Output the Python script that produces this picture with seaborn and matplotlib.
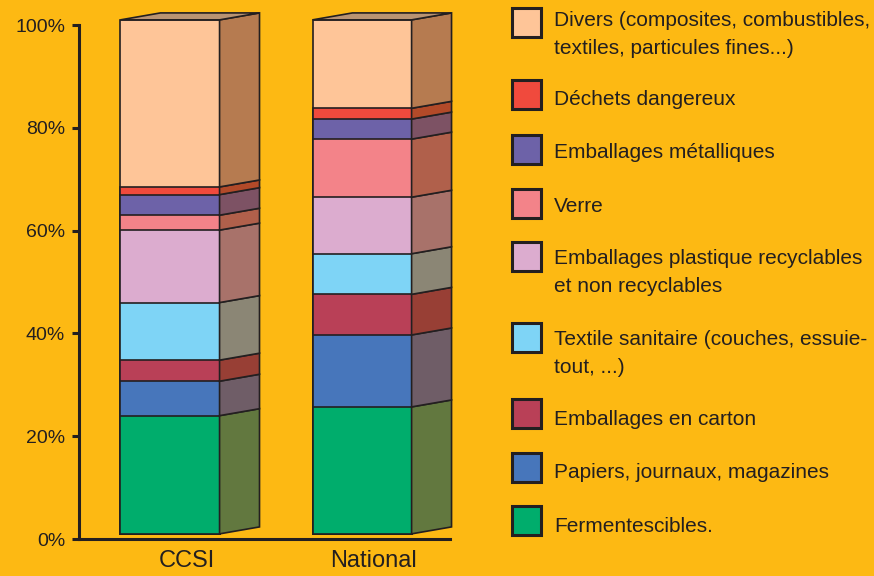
import matplotlib
matplotlib.use("Agg")
import matplotlib.pyplot as plt
from matplotlib.patches import Rectangle, Polygon
import seaborn as sns
import numpy as np

# --- data (bottom -> top of each stack) ---
sites = ["CCSI", "National"]
categories = [
    "Fermentescibles.",
    "Papiers, journaux, magazines",
    "Emballages en carton",
    "Textile sanitaire (couches, essuie-\ntout, ...)",
    "Emballages plastique recyclables\net non recyclables",
    "Verre",
    "Emballages métalliques",
    "Déchets dangereux",
    "Divers (composites, combustibles,\ntextiles, particules fines...)",
]
ccsi = [23.0, 6.7, 4.1, 11.2, 14.1, 2.9, 4.0, 1.5, 32.5]
national = [24.7, 14.0, 7.9, 7.9, 11.0, 11.3, 3.9, 2.1, 17.2]
front_colors = ["#00AD6C", "#4776BB", "#B94057", "#7ED4F6", "#DCACCF",
                "#F38389", "#6D62A8", "#F04A3D", "#FEC598"]
side_colors = ["#62783F", "#6F5D67", "#983F35", "#8B8675", "#A8726A",
               "#B0604B", "#7D5264", "#B24A29", "#B67B50"]
top_color = "#B99372"
yticks = [0, 20, 40, 60, 80, 100]

# --- style / layout ---
BG = "#FDB913"
INK = "#231F20"
W = 0.516          # front face width (category units)
DX, DY = 0.208, 1.35   # 3D depth offset
BASE = 1.0         # front face lifted slightly above the axis
FONT = ["Liberation Sans", "DejaVu Sans"]

sns.set_style("ticks")
plt.rcParams["font.family"] = FONT
plt.rcParams["text.color"] = INK

fig = plt.figure(figsize=(8.74, 5.76), dpi=100, facecolor=BG)
ax = fig.add_axes([79 / 874, 37 / 576, 371 / 874, 514 / 576])
ax.set_facecolor(BG)

values = np.array([ccsi, national])          # (site, category)
tops = np.cumsum(values, axis=1)
bottoms = tops - values

# front faces: cumulative totals drawn tallest first so each layer overlays
for i in range(len(categories) - 1, -1, -1):
    sns.barplot(x=sites, y=tops[:, i], color=front_colors[i], saturation=1,
                width=W, edgecolor=INK, linewidth=1.2, errorbar=None,
                bottom=BASE, ax=ax, clip_on=False, zorder=3)

# side and top faces
for s in range(len(sites)):
    xr = s + W / 2
    xl = s - W / 2
    for i in range(len(categories)):
        y0 = bottoms[s, i] + BASE
        y1 = tops[s, i] + BASE
        ax.add_patch(Polygon([(xr, y0), (xr + DX, y0 + DY), (xr + DX, y1 + DY), (xr, y1)],
                             closed=True, facecolor=side_colors[i], edgecolor=INK,
                             linewidth=1.2, clip_on=False, zorder=3))
    yt = tops[s, -1] + BASE
    ax.add_patch(Polygon([(xl, yt), (xl + DX, yt + DY), (xr + DX, yt + DY), (xr, yt)],
                         closed=True, facecolor=top_color, edgecolor=INK,
                         linewidth=1.2, clip_on=False, zorder=3))

ax.set_xlim(-0.474, 1.458)
ax.set_ylim(0, 100)
ax.set_yticks(yticks)
ax.set_yticklabels([f"{v}%" for v in yticks], fontsize=14)
ax.set_xticks([0.09, 1.06])
ax.set_xticklabels(sites, fontsize=17)
ax.set_xlabel("")
ax.set_ylabel("")
ax.tick_params(axis="y", length=5, width=2.2, color=INK, pad=5, labelcolor=INK)
ax.tick_params(axis="x", length=0, pad=8, labelcolor=INK)
for side in ["top", "right"]:
    ax.spines[side].set_visible(False)
for side in ["left", "bottom"]:
    ax.spines[side].set_linewidth(2.2)
    ax.spines[side].set_color(INK)

# legend drawn in pixel coordinates (top to bottom)
box_tops = [8, 80, 135, 189, 242, 323, 399, 453, 506]
baselines = [26, 105, 158, 212, 264, 345, 425, 478, 532]
LINE_H = 28
for k, i in enumerate(range(len(categories) - 1, -1, -1)):
    fig.add_artist(Rectangle((512 / 874, 1 - (box_tops[k] + 29) / 576), 29 / 874, 29 / 576,
                             transform=fig.transFigure, facecolor=front_colors[i],
                             edgecolor=INK, linewidth=2.2))
    for j, line in enumerate(categories[i].split("\n")):
        fig.text(554 / 874, 1 - (baselines[k] + j * LINE_H) / 576, line, fontsize=15,
                 va="baseline", ha="left", color=INK)

fig.savefig("out.png", dpi=100, facecolor=BG)
